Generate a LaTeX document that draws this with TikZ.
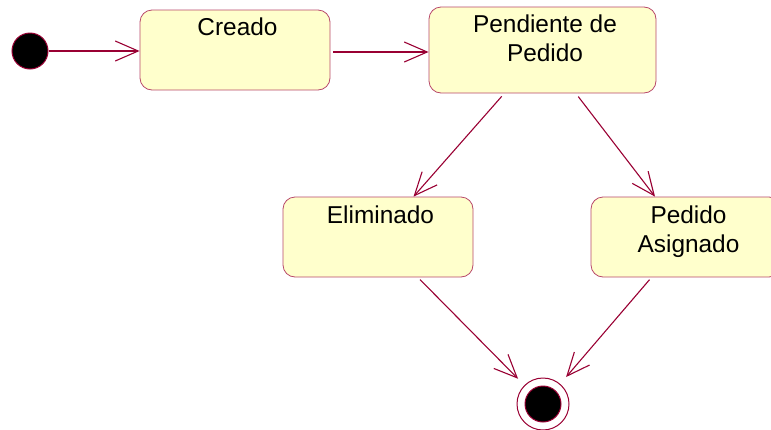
\documentclass[tikz,border=0pt]{standalone}
\usepackage{fontspec}
\setmainfont{Liberation Sans}
\usetikzlibrary{arrows.meta}
\newlength{\ux}\setlength{\ux}{0.75pt}
\definecolor{umlred}{HTML}{990033}
\definecolor{umlborder}{HTML}{B8486A}
\definecolor{umlfill}{HTML}{FFFFCC}
\tikzset{
  statebox/.style={draw=umlborder, fill=umlfill, line width=0.8\ux, rounded corners=12\ux,
    minimum width=190\ux, minimum height=80\ux, inner sep=0pt},
  statetext/.style={anchor=north, inner sep=0pt, align=center, xshift=2.5\ux,
    font=\fontsize{18.3}{21.75}\selectfont, text=black},
  initstate/.style={circle, draw=umlred, fill=black, line width=1\ux, minimum size=36\ux, inner sep=0pt},
  finalstate/.style={circle, draw=umlred, line width=1\ux, minimum size=52\ux, inner sep=0pt,
    path picture={\filldraw[fill=black, draw=umlred, line width=0.75pt]
      (path picture bounding box.center) circle (13.5pt);}},
  trans/.style={draw=umlred, line width=0.825pt, -{Straight Barb[length=17.25pt, width=15pt, line width=0.825pt]}}
}
\begin{document}
\begin{tikzpicture}[x=0.75pt, y=-0.75pt]
\useasboundingbox (0,0) rectangle (771,429);
\clip (0,0) rectangle (771,429);
\node[initstate] (start) at (30,51) {};
\node[statebox, label={[statetext, yshift=-8\ux]north:Creado}] (creado) at (235,50) {};
\node[statebox, minimum width=227\ux, minimum height=86\ux,
  label={[statetext, yshift=-8\ux]north:Pendiente de\\Pedido}] (pend) at (542.5,50) {};
\node[statebox, label={[statetext, yshift=-9\ux]north:Eliminado}] (elim) at (378,237) {};
\node[statebox, label={[statetext, yshift=-9\ux]north:Pedido\\Asignado}] (asig) at (686,237) {};
\node[finalstate] (end) at (543,404) {};

\draw[trans] (start) -- (start -| creado.west);
\draw[trans, shorten <=2.25pt] (creado.east |- 0,52) -- (pend.west |- 0,52);
\draw[trans, shorten <=3pt] (pend) -- (elim);
\draw[trans, shorten <=3pt] (pend) -- (asig);
\draw[trans, shorten <=2.25pt, shorten >=6.75pt] (elim) -- (end);
\draw[trans, shorten <=2.25pt, shorten >=6.75pt] (asig) -- (end);
\end{tikzpicture}
\end{document}
